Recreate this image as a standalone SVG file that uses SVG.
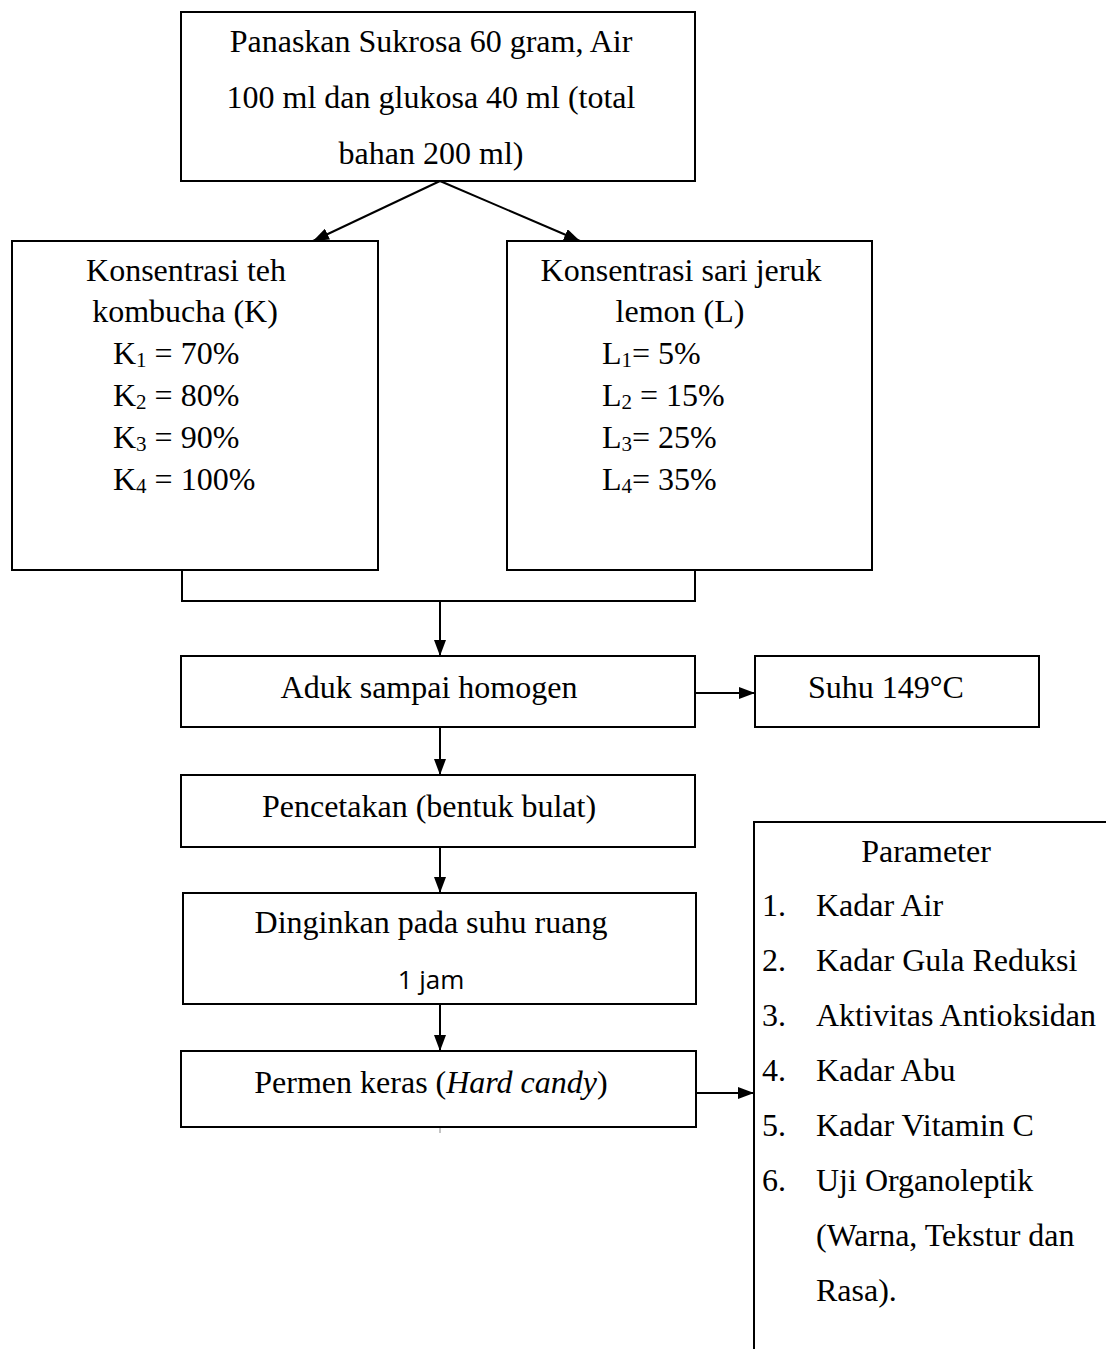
<svg xmlns="http://www.w3.org/2000/svg" width="1106" height="1349" viewBox="0 0 1106 1349">
<style>
.box{fill:#fff;stroke:#000;stroke-width:2}
.ln{fill:none;stroke:#000;stroke-width:2}
text{font-family:"Liberation Serif","Times New Roman",serif;font-size:32px;fill:#000}
.c{text-anchor:middle}
.sans{font-family:"Open Sans","Noto Sans",sans-serif;font-size:26px}
</style>
<defs>
<marker id="ah" viewBox="0 0 16 12" refX="16" refY="6" markerWidth="16" markerHeight="12" markerUnits="userSpaceOnUse" orient="auto">
<path d="M0,0 L16,6 L0,12 z" fill="#000"/>
</marker>
</defs>
<rect width="1106" height="1349" fill="#fff"/>
<g id="connectors">
<path class="ln" d="M440,181 L313,241" marker-end="url(#ah)"/>
<path class="ln" d="M440,181 L580,241" marker-end="url(#ah)"/>
<path class="ln" d="M182,570 V601 H695 V570"/>
<path class="ln" d="M440,601 V656" marker-end="url(#ah)"/>
<path class="ln" d="M696,693 H755" marker-end="url(#ah)"/>
<path class="ln" d="M440,727 V775" marker-end="url(#ah)"/>
<path class="ln" d="M440,847 V893" marker-end="url(#ah)"/>
<path class="ln" d="M440,1004 V1051" marker-end="url(#ah)"/>
<path class="ln" d="M696,1093 H754" marker-end="url(#ah)"/>
<path d="M440,1127 V1133" stroke="#888" stroke-width="1"/>
</g>
<g id="n-panaskan">
<rect class="box" x="181" y="12" width="514" height="169"/>
<text class="c" x="431" y="52">Panaskan Sukrosa 60 gram, Air</text>
<text class="c" x="431" y="108">100 ml dan glukosa 40 ml (total</text>
<text class="c" x="431" y="164">bahan 200 ml)</text>
</g>
<g id="n-kombucha">
<rect class="box" x="12" y="241" width="366" height="329"/>
<text class="c" x="186" y="281">Konsentrasi teh</text>
<text class="c" x="185" y="322">kombucha (K)</text>
<text x="113" y="364">K<tspan font-size="21" dy="3">1</tspan><tspan dy="-3"> = 70%</tspan></text>
<text x="113" y="406">K<tspan font-size="21" dy="3">2</tspan><tspan dy="-3"> = 80%</tspan></text>
<text x="113" y="448">K<tspan font-size="21" dy="3">3</tspan><tspan dy="-3"> = 90%</tspan></text>
<text x="113" y="490">K<tspan font-size="21" dy="3">4</tspan><tspan dy="-3"> = 100%</tspan></text>
</g>
<g id="n-lemon">
<rect class="box" x="507" y="241" width="365" height="329"/>
<text class="c" x="681" y="281">Konsentrasi sari jeruk</text>
<text class="c" x="680" y="322">lemon (L)</text>
<text x="602" y="364">L<tspan font-size="21" dy="3">1</tspan><tspan dy="-3">= 5%</tspan></text>
<text x="602" y="406">L<tspan font-size="21" dy="3">2</tspan><tspan dy="-3"> = 15%</tspan></text>
<text x="602" y="448">L<tspan font-size="21" dy="3">3</tspan><tspan dy="-3">= 25%</tspan></text>
<text x="602" y="490">L<tspan font-size="21" dy="3">4</tspan><tspan dy="-3">= 35%</tspan></text>
</g>
<g id="n-aduk">
<rect class="box" x="181" y="656" width="514" height="71"/>
<text class="c" x="429" y="698">Aduk sampai homogen</text>
</g>
<g id="n-suhu">
<rect class="box" x="755" y="656" width="284" height="71"/>
<text x="808" y="698">Suhu 149°C</text>
</g>
<g id="n-pencetakan">
<rect class="box" x="181" y="775" width="514" height="72"/>
<text class="c" x="429" y="817">Pencetakan (bentuk bulat)</text>
</g>
<g id="n-dinginkan">
<rect class="box" x="183" y="893" width="513" height="111"/>
<text class="c" x="431" y="933">Dinginkan pada suhu ruang</text>
<text class="c sans" x="431" y="989">1 jam</text>
</g>
<g id="n-permen">
<rect class="box" x="181" y="1051" width="515" height="76"/>
<text class="c" x="431" y="1093">Permen keras (<tspan font-style="italic">Hard candy</tspan>)</text>
</g>
<g id="n-parameter">
<path class="ln" d="M1106,822 H754 V1349"/>
<text class="c" x="926" y="862">Parameter</text>
<text x="762" y="916">1.</text><text x="816" y="916">Kadar Air</text>
<text x="762" y="971">2.</text><text x="816" y="971">Kadar Gula Reduksi</text>
<text x="762" y="1026">3.</text><text x="816" y="1026">Aktivitas Antioksidan</text>
<text x="762" y="1081">4.</text><text x="816" y="1081">Kadar Abu</text>
<text x="762" y="1136">5.</text><text x="816" y="1136">Kadar Vitamin C</text>
<text x="762" y="1191">6.</text><text x="816" y="1191">Uji Organoleptik</text>
<text x="816" y="1246">(Warna, Tekstur dan</text>
<text x="816" y="1301">Rasa).</text>
</g>
</svg>
